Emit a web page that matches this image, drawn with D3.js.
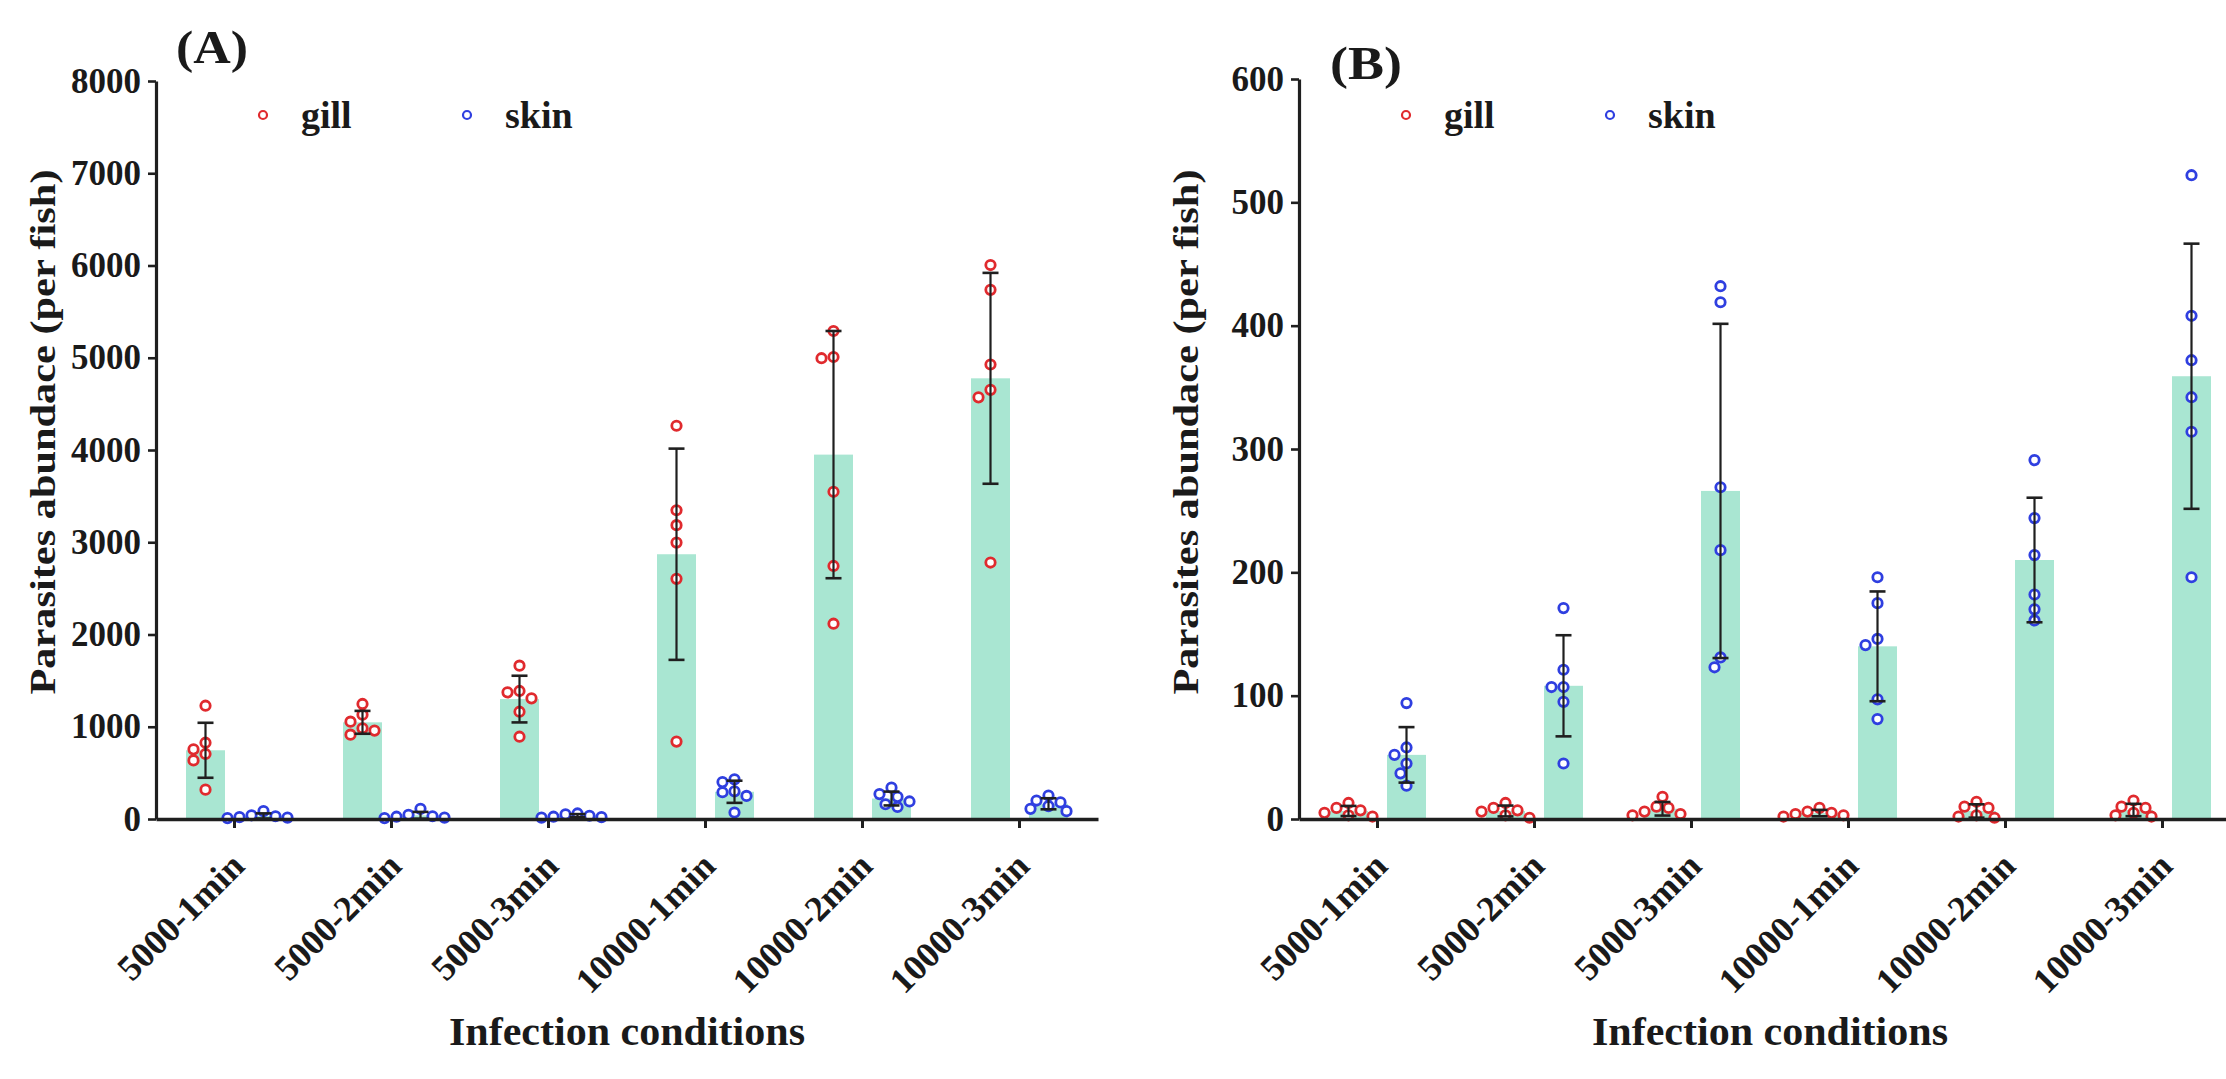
<!DOCTYPE html>
<html>
<head>
<meta charset="utf-8">
<script src="https://cdn.jsdelivr.net/npm/d3@7"></script>
<style>
  body { margin: 0; background: #fff; }
  svg text { font-family: "Times New Roman", "Liberation Serif", serif; font-weight: bold; fill: #1a1a1a; }
</style>
</head>
<body>
<svg id="chart" width="2226" height="1079"></svg>
<script>
// categories shared by both panels
let cats = ["5000-1min", "5000-2min", "5000-3min", "10000-1min", "10000-2min", "10000-3min"]

// panel A : individual fish (gill / skin)
let gillA = [
  [1228, 827, 755, 705, 635, 318],
  [1247, 1131, 1055, 983, 958, 914],
  [1662, 1388, 1373, 1308, 1163, 892],
  [4263, 3347, 3185, 2996, 2603, 839],
  [5290, 5008, 4995, 3547, 2743, 2117],
  [6005, 5736, 4927, 4652, 4571, 2780]
]
let skinA = [
  [85, 40, 30, 20, 15, 10],
  [110, 45, 30, 25, 15, 10],
  [60, 50, 35, 25, 20, 15],
  [430, 400, 300, 290, 250, 70],
  [340, 270, 240, 190, 160, 130],
  [255, 200, 180, 140, 110, 85]
]
let gillMeanA = [745, 1048, 1300, 2870, 3950, 4777]
let gillSdA = [298, 124, 253, 1145, 1340, 1143]
let skinMeanA = [33, 40, 36, 295, 222, 165]
let skinSdA = [28, 37, 17, 120, 75, 60]
let ticksA = [0, 1000, 2000, 3000, 4000, 5000, 6000, 7000, 8000]

// panel B
let gillB = [
  [13, 9, 7, 5, 3, 2],
  [13, 9, 7, 6, 3, 1],
  [18, 10, 9, 6, 4, 3],
  [9, 6, 5, 4, 3, 2],
  [14, 10, 9, 3, 2, 1],
  [15, 10, 9, 5, 3, 2]
]
let skinB = [
  [94, 58, 52, 45, 37, 27],
  [171, 121, 107, 107, 95, 45],
  [432, 419, 269, 218, 131, 123],
  [196, 175, 146, 141, 97, 81],
  [291, 244, 214, 182, 170, 161],
  [522, 408, 372, 342, 314, 196]
]
let gillMeanB = [6.5, 6.5, 8.3, 4.8, 6.5, 7.3]
let gillSdB = [4.1, 4.4, 5.5, 2.6, 5.4, 5.0]
let skinMeanB = [52, 108, 266, 140, 210, 359]
let skinSdB = [22.5, 41, 135.5, 44.5, 50.5, 107.5]
let ticksB = [0, 100, 200, 300, 400, 500, 600]

let legendNames = ["gill", "skin"]
let red = "#e02a2e", blue = "#2f3fe0", mint = "#a9e6d2", ink = "#1f1f1f"

var svg = d3.select("#chart")

// simple beeswarm, like the prism scatter : nearest free slot to the centre
function swarm(vals, y, cx) {
  var placed = []
  vals.slice().sort((a, b) => b - a).forEach(function (v) {
    var py = y(v), off = 0
    for (var k = 0; k < 30; k++) {
      off = k == 0 ? 0 : Math.ceil(k / 2) * 6 * (k % 2 ? -1 : 1)
      var ok = placed.every(p => Math.hypot(p.x - (cx + off), p.y - py) >= 10)
      if (ok) break
    }
    placed.push({ x: cx + off, y: py })
  })
  return placed
}

function drawPanel(cfg) {
  var g = svg.append("g")
  var x = d3.scaleBand().domain(cats).range([cfg.x0, cfg.x0 + 942])
  var y = d3.scaleLinear().domain([0, cfg.max]).range([819, cfg.top])
  var half = x.bandwidth() / 2

  var groups = [
    { pts: cfg.gill, mean: cfg.gillMean, sd: cfg.gillSd, dx: -29, col: red },
    { pts: cfg.skin, mean: cfg.skinMean, sd: cfg.skinSd, dx: 29, col: blue }
  ]

  groups.forEach(function (s) {
    // bars = mean
    g.selectAll(null).data(cats).enter().append("rect")
      .attr("x", d => x(d) + half + s.dx - 19.5).attr("width", 39)
      .attr("y", (d, i) => y(s.mean[i])).attr("height", (d, i) => 819 - y(s.mean[i]))
      .attr("fill", mint)
  })

  groups.forEach(function (s) {
    cats.forEach(function (c, i) {
      var cx = x(c) + half + s.dx
      g.selectAll(null).data(swarm(s.pts[i], y, cx)).enter().append("circle")
        .attr("cx", d => d.x).attr("cy", d => d.y).attr("r", 4.7)
        .attr("fill", "white").attr("stroke", s.col).attr("stroke-width", 2.8)
    })
  })

  // error bars, mean +- sd
  groups.forEach(function (s) {
    cats.forEach(function (c, i) {
      var cx = x(c) + half + s.dx
      var hi = y(s.mean[i] + s.sd[i]), lo = y(Math.max(0, s.mean[i] - s.sd[i]))
      g.append("line").attr("x1", cx).attr("x2", cx).attr("y1", hi).attr("y2", lo)
        .attr("stroke", ink).attr("stroke-width", 2.2)
      g.selectAll(null).data([hi, lo]).enter().append("line")
        .attr("x1", cx - 8).attr("x2", cx + 8).attr("y1", d => d).attr("y2", d => d)
        .attr("stroke", ink).attr("stroke-width", 2.6)
    })
  })

  // y axis
  var ya = g.append("g").attr("transform", `translate(${cfg.x0},0)`)
    .call(d3.axisLeft(y).tickValues(cfg.ticks).tickSize(8).tickSizeOuter(0).tickPadding(7).tickFormat(d3.format("d")))
  ya.select(".domain").attr("stroke", ink).attr("stroke-width", 3.2)
  ya.selectAll(".tick line").attr("stroke", ink).attr("stroke-width", 2.6)
  ya.selectAll(".tick text").style("font-size", "35px").attr("fill", ink)

  // x axis
  var xa = g.append("g").attr("transform", "translate(0,819)")
    .call(d3.axisBottom(x).tickSize(9).tickSizeOuter(0))
  xa.select(".domain").attr("stroke", ink).attr("stroke-width", 3.6)
  xa.selectAll(".tick line").attr("stroke", ink).attr("stroke-width", 3)
  xa.selectAll(".tick text").style("font-size", "36px").attr("fill", ink)
    .attr("text-anchor", "end").attr("x", 0).attr("y", 0).attr("dy", 0)
    .attr("transform", "translate(12,49) rotate(-45)")

  // titles
  g.append("text").text("Infection conditions").attr("x", cfg.x0 + 471).attr("y", 1045)
    .attr("text-anchor", "middle").style("font-size", "40px")
    .attr("textLength", 356).attr("lengthAdjust", "spacingAndGlyphs")
  g.append("text").text("Parasites abundace (per fish)")
    .attr("transform", `translate(${cfg.x0 - 101},432) rotate(-90)`)
    .attr("text-anchor", "middle").style("font-size", "35px")
    .attr("textLength", 525).attr("lengthAdjust", "spacingAndGlyphs")
  g.append("text").text(cfg.label).attr("x", cfg.x0 + cfg.labelDx).attr("y", cfg.labelY)
    .style("font-size", "46px").attr("textLength", 72).attr("lengthAdjust", "spacingAndGlyphs")

  // legend
  legendNames.forEach(function (n, i) {
    var lx = cfg.x0 + 107 + i * 204
    g.append("circle").attr("cx", lx).attr("cy", 115).attr("r", 4)
      .attr("fill", "white").attr("stroke", i == 0 ? red : blue).attr("stroke-width", 2.2)
    g.append("text").text(n).attr("x", lx + 38).attr("y", 128).style("font-size", "38px")
  })
}

drawPanel({ x0: 156, top: 81, max: 8000, ticks: ticksA, gill: gillA, skin: skinA,
  gillMean: gillMeanA, gillSd: gillSdA, skinMean: skinMeanA, skinSd: skinSdA,
  label: "(A)", labelDx: 20, labelY: 63 })
drawPanel({ x0: 1299, top: 79, max: 600, ticks: ticksB, gill: gillB, skin: skinB,
  gillMean: gillMeanB, gillSd: gillSdB, skinMean: skinMeanB, skinSd: skinSdB,
  label: "(B)", labelDx: 31, labelY: 79 })
</script>
</body>
</html>
